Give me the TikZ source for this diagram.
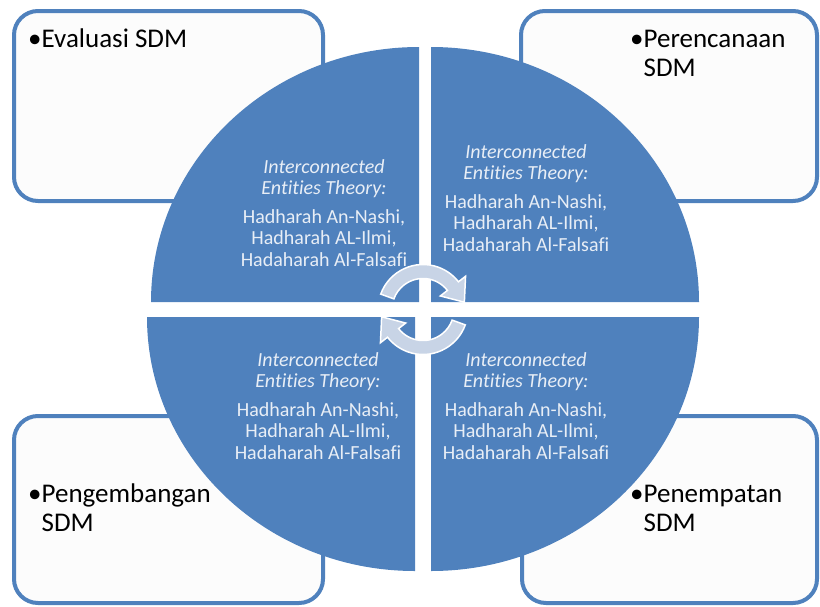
\documentclass[tikz,border=0pt]{standalone}
\usepackage{fontspec}
\setmainfont[Ligatures=NoCommon]{Carlito}
\definecolor{qblue}{RGB}{79,129,189}
\definecolor{qtext}{RGB}{232,238,246}
\definecolor{boxfill}{RGB}{252,252,252}
\definecolor{arrfill}{RGB}{200,212,230}
\begin{document}
\begin{tikzpicture}[x=1pt,y=-1pt,
  sbox/.style={draw=qblue, line width=4pt, fill=boxfill, rounded corners=24pt, inner sep=0pt},
  quad/.style={fill=qblue},
  btext/.style={inner sep=0pt, anchor=base west, text=black, font=\fontsize{27}{29}\selectfont},
  qlabel/.style={inner sep=0pt, anchor=base, text=qtext, font=\fontsize{20}{21.5}\selectfont},
  carrow/.style={fill=arrfill, draw=white, line width=1.5pt}]
\useasboundingbox (0,0) rectangle (820,606);
% corner boxes
\node[sbox, minimum width=309pt, minimum height=190pt] (evalbox) at (168.5,106) {};
\node[sbox, minimum width=296pt, minimum height=190pt] (planbox) at (669,106) {};
\node[sbox, minimum width=309pt, minimum height=187pt] (devbox) at (168.5,509.5) {};
\node[sbox, minimum width=295pt, minimum height=187pt] (placebox) at (669.5,509.5) {};
\node[btext] (evaltxt) at (28,47) {•Evaluasi SDM};
\node[btext] (plantxt) at (630,47) {\begin{tabular}[t]{@{}l@{}}•Perencanaan\\\hphantom{•}SDM\end{tabular}};
\node[btext] (devtxt) at (28,502) {\begin{tabular}[t]{@{}l@{}}•Pengembangan\\\hphantom{•}SDM\end{tabular}};
\node[btext] (placetxt) at (630,502) {\begin{tabular}[t]{@{}l@{}}•Penempatan\\\hphantom{•}SDM\end{tabular}};
% quadrants
\fill[quad] (419,302) -- (151,302) arc[start angle=180, end angle=270, x radius=268, y radius=255] -- cycle;
\fill[quad] (431,302) -- (699,302) arc[start angle=0, end angle=-90, x radius=268, y radius=255] -- cycle;
\fill[quad] (415,317) -- (147,317) arc[start angle=180, end angle=90, x radius=268, y radius=254] -- cycle;
\fill[quad] (431,317) -- (699,317) arc[start angle=0, end angle=90, x radius=268, y radius=254] -- cycle;
% quadrant texts
\newcommand{\qcontent}{\begin{tabular}[t]{@{}c@{}}\itshape Interconnected\\\itshape Entities Theory:\\[7pt]Hadharah An-Nashi,\\Hadharah AL-Ilmi,\\Hadaharah Al-Falsafi\end{tabular}}
\node[qlabel] (tltxt) at (324,173) {\qcontent};
\node[qlabel] (trtxt) at (526,158) {\qcontent};
\node[qlabel] (bltxt) at (318,366) {\qcontent};
\node[qlabel] (brtxt) at (526,366) {\qcontent};
% circular arrows
\begin{scope}[shift={(423,309.5)}, yscale=-1]
\filldraw[carrow] (160:45) arc[start angle=160, end angle=38, radius=45] -- (38:54) -- (10:42) -- (38:22) -- (38:31) arc[start angle=38, end angle=160, radius=31] -- cycle;
\filldraw[carrow] (-20:45) arc[start angle=-20, end angle=-142, radius=45] -- (-142:54) -- (190:42) -- (-142:22) -- (-142:31) arc[start angle=-142, end angle=-20, radius=31] -- cycle;
\end{scope}
\end{tikzpicture}
\end{document}
